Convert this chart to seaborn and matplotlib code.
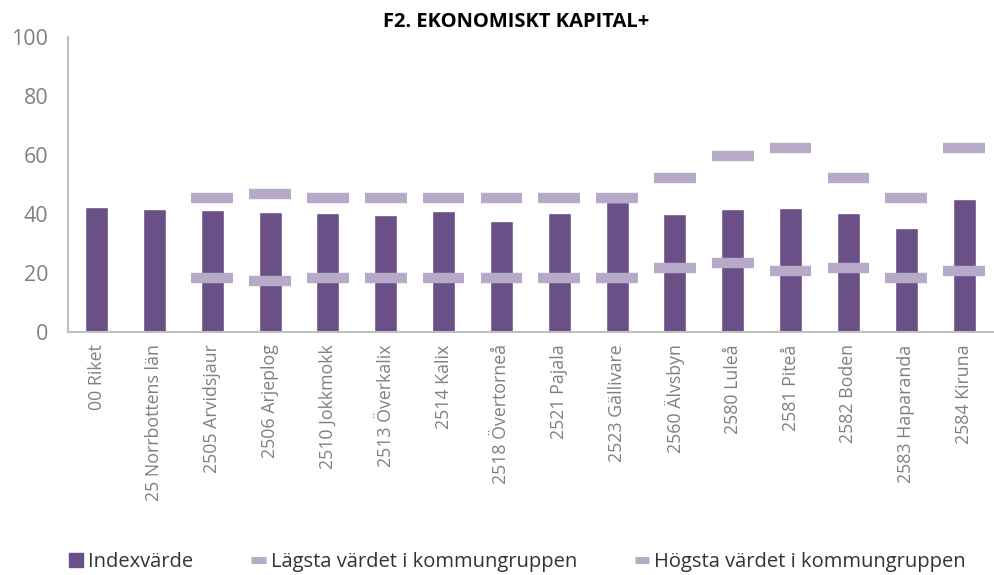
import matplotlib
matplotlib.use("Agg")
import matplotlib.pyplot as plt
import seaborn as sns
import pandas as pd
from matplotlib.lines import Line2D
from matplotlib.patches import Patch

# data
kommuner = ["00 Riket", "25 Norrbottens län", "2505 Arvidsjaur", "2506 Arjeplog",
            "2510 Jokkmokk", "2513 Överkalix", "2514 Kalix", "2518 Övertorneå",
            "2521 Pajala", "2523 Gällivare", "2560 Älvsbyn", "2580 Luleå",
            "2581 Piteå", "2582 Boden", "2583 Haparanda", "2584 Kiruna"]
indexvarde = [42.3, 41.6, 41.2, 40.6, 40.2, 39.6, 41.1, 37.5,
              40.2, 44.0, 40.0, 41.7, 41.9, 40.2, 35.2, 45.0]
lagsta = [None, None, 18.1, 17.2, 18.1, 18.1, 18.1, 18.1,
          18.1, 18.1, 21.6, 23.3, 20.6, 21.6, 18.1, 20.6]
hogsta = [None, None, 45.3, 46.8, 45.3, 45.3, 45.3, 45.3,
          45.3, 45.3, 52.3, 59.8, 62.3, 52.3, 45.3, 62.3]

BAR = "#6a5086"
MARK = "#b7aac8"
GREY = "#808080"

sns.set_theme(style="white")
plt.rcParams["font.family"] = ["Open Sans", "DejaVu Sans"]

df = pd.DataFrame({"kommun": kommuner, "index": indexvarde})

fig = plt.figure(figsize=(9.95, 5.75), dpi=100)
ax = fig.add_axes([0.068, 0.423, 0.930, 0.512])

sns.barplot(data=df, x="kommun", y="index", color=BAR, width=0.4,
            saturation=1, ax=ax, zorder=2)

# min / max markers as short thick lines
for i, (lo, hi) in enumerate(zip(lagsta, hogsta)):
    for v in (lo, hi):
        if v is None:
            continue
        ax.hlines(v, i - 0.36, i + 0.36, color=MARK, linewidth=7.5,
                  capstyle="butt", zorder=3)

ax.set_ylim(0, 100)
ax.set_xlim(-0.5, len(kommuner) - 0.5)
ax.set_yticks(range(0, 101, 20))
ax.set_xlabel("")
ax.set_ylabel("")
ax.tick_params(axis="y", labelsize=15.5, colors=GREY, length=0, pad=14)
ax.tick_params(axis="x", labelsize=12.8, colors=GREY, length=0, pad=9)
plt.setp(ax.get_xticklabels(), rotation=90)
for s in ["top", "right"]:
    ax.spines[s].set_visible(False)
for s in ["left", "bottom"]:
    ax.spines[s].set_color("#bfbfbf")
    ax.spines[s].set_linewidth(1.5)

fig.text(0.519, 0.962, "F2. EKONOMISKT KAPITAL+", ha="center", va="center",
         fontsize=14.5, fontweight="bold", color="black")

handles = [Patch(facecolor=BAR, edgecolor=BAR),
           Line2D([0], [0], color=MARK, linewidth=5, solid_capstyle="butt"),
           Line2D([0], [0], color=MARK, linewidth=5, solid_capstyle="butt")]
labels = ["Indexvärde", "Lägsta värdet i kommungruppen", "Högsta värdet i kommungruppen"]
fig.legend(handles, labels, loc="center", bbox_to_anchor=(0.52, 0.022), ncol=3,
           frameon=False, fontsize=14.5, handlelength=0.7, handletextpad=0.25,
           columnspacing=2.9, labelcolor="#333333")

fig.savefig("out.png", dpi=100)
